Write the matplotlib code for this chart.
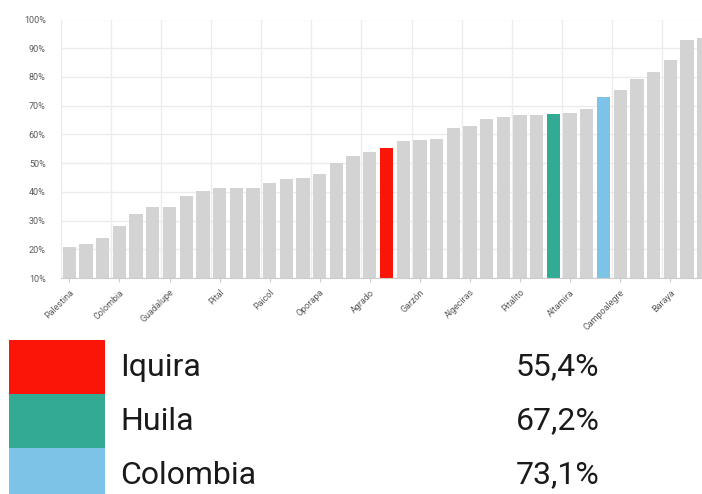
import numpy as np
import matplotlib
matplotlib.use("Agg")
import matplotlib.pyplot as plt
from matplotlib.patches import Rectangle

plt.rcParams['font.family'] = ['Roboto', 'DejaVu Sans']

# valores por municipio (%), ordenados de menor a mayor
values = [20.9, 21.7, 24.1, 28.0, 32.4, 34.8, 34.8, 38.6, 40.4, 41.3,
          41.3, 41.5, 43.2, 44.6, 44.8, 46.1, 49.9, 52.5, 53.9, 55.4,
          57.7, 58.2, 58.4, 62.3, 62.8, 65.2, 66.1, 66.6, 66.9, 67.2,
          67.6, 68.8, 73.1, 75.3, 79.2, 81.8, 85.8, 92.8, 93.6]

# etiquetas visibles (una cada tres barras)
tick_labels = ['Palestina', 'Colombia', 'Guadalupe', 'Pital', 'Paicol',
               'Oporapa', 'Agrado', 'Garzón', 'Algeciras', 'Pitalito',
               'Altamira', 'Campoalegre', 'Baraya']
tick_step = 3

# barras destacadas
hl_names = ['Iquira', 'Huila', 'Colombia']
hl_values = [55.4, 67.2, 73.1]
hl_idx = [19, 29, 32]
hl_colors = ['#fb1508', '#33ab94', '#7cc3e7']

gray = '#d3d3d3'
colors = [gray] * len(values)
for i, c in zip(hl_idx, hl_colors):
    colors[i] = c

fig = plt.figure(figsize=(7.02, 4.94), dpi=100)
W, H = 702, 494
ax = fig.add_axes([61 / W, (H - 278) / H, (W - 61) / W, (278 - 19.5) / H])

x = np.arange(len(values))
ax.bar(x, np.array(values) - 10, bottom=10, width=0.8, color=colors, zorder=3)

ax.set_yticks(range(10, 101, 10))
ax.set_yticklabels([f'{v}%' for v in range(10, 101, 10)])
ax.set_xticks(x[::tick_step])
ax.set_xticklabels(tick_labels, rotation=45, ha='right', rotation_mode='anchor')
ax.set_xticks(np.arange(-0.5, 37, tick_step), minor=True)

# limites despues de los ticks (set_xticks los amplia)
ax.set_xlim(-0.5, 37.9)
ax.set_ylim(10, 100)

ax.tick_params(axis='y', length=0, labelsize=6.5, labelcolor='#5a5a5a', pad=11)
ax.tick_params(axis='x', which='major', length=3, color='#cccccc',
               labelsize=6.5, labelcolor='#5a5a5a', pad=4)
ax.tick_params(axis='x', which='minor', length=0)

ax.grid(axis='y', color='#ececec', linewidth=1, zorder=0)
ax.grid(axis='x', which='minor', color='#ececec', linewidth=1, zorder=0)
for s in ['top', 'right', 'left']:
    ax.spines[s].set_visible(False)
ax.spines['bottom'].set_color('#cccccc')
ax.spines['bottom'].set_zorder(4)

# leyenda inferior
row_h = 54 / H
top = (H - 340) / H
for k, (name, val, col) in enumerate(zip(hl_names, hl_values, hl_colors)):
    y0 = top - (k + 1) * row_h
    fig.add_artist(Rectangle((9 / W, y0), 96 / W, row_h, transform=fig.transFigure,
                             color=col, lw=0))
    yc = y0 + row_h / 2
    fig.text(120 / W, yc, name, fontsize=23, color='#1a1a1a', va='center')
    fig.text(516 / W, yc, f'{val:.1f}%'.replace('.', ','), fontsize=23,
             color='#1a1a1a', va='center')

fig.savefig('out.png', dpi=100)
